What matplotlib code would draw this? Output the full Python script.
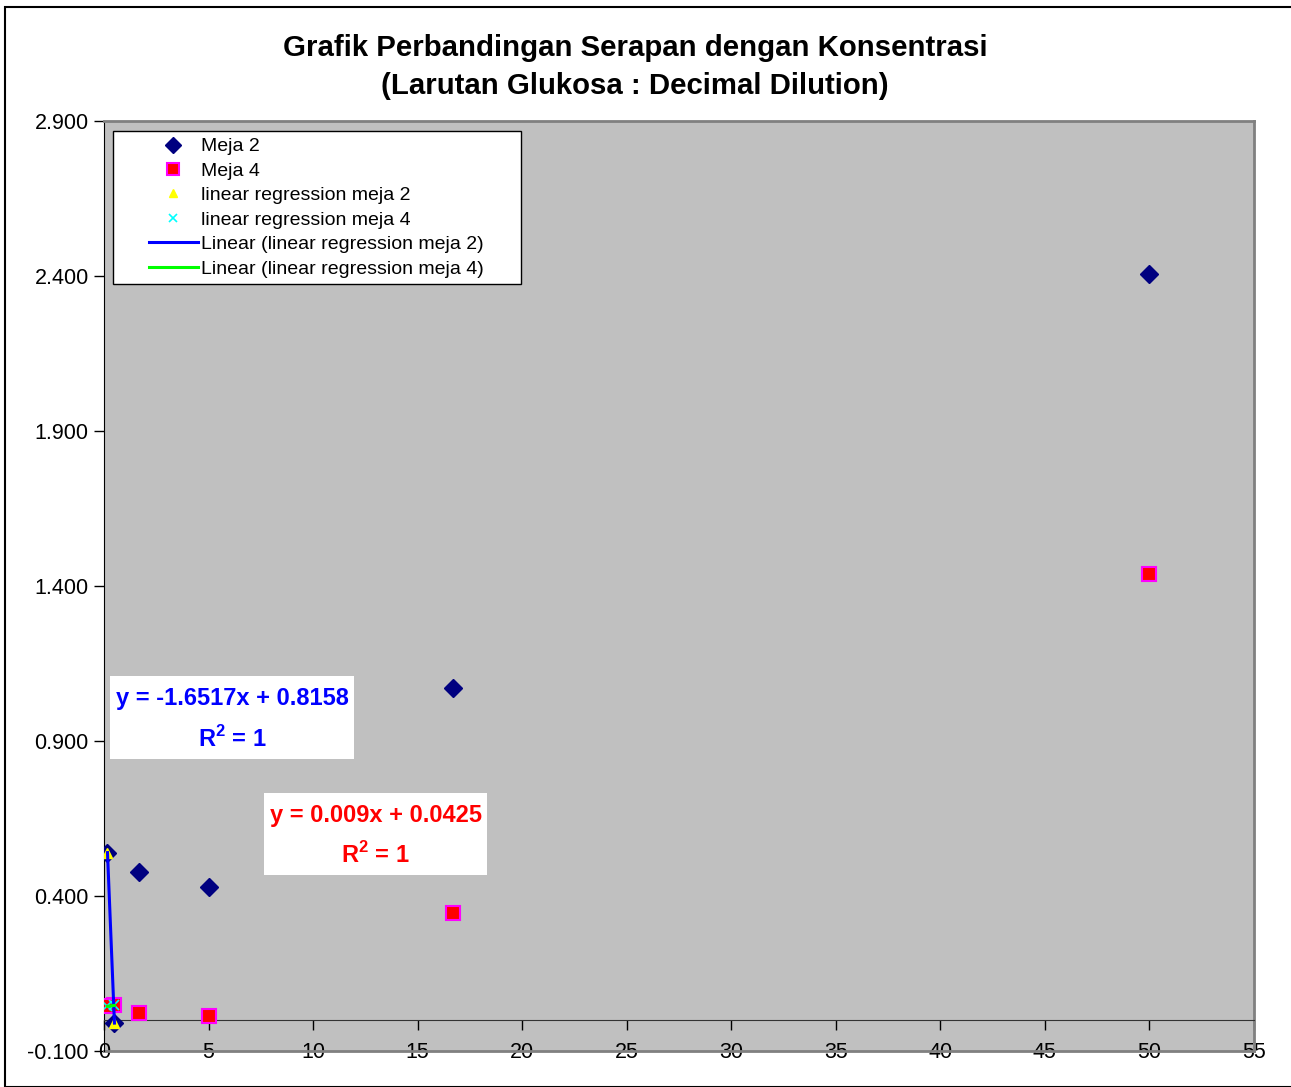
import numpy as np
import matplotlib
matplotlib.use("Agg")
import matplotlib.pyplot as plt
from matplotlib.patches import Rectangle
from matplotlib.legend_handler import HandlerLine2D

plt.rcParams['font.family'] = ['Liberation Sans', 'DejaVu Sans']
plt.rcParams['mathtext.fontset'] = 'custom'
plt.rcParams['mathtext.bf'] = 'Liberation Sans:bold'
plt.rcParams['mathtext.rm'] = 'Liberation Sans:bold'

# konsentrasi (decimal dilution) dan serapan
konsentrasi = [50, 16.67, 5, 1.67, 0.5, 0.167]
meja2 = [2.406, 1.071, 0.429, 0.477, -0.010, 0.540]
meja4 = [1.439, 0.345, 0.013, 0.023, 0.047, 0.044]

# titik regresi linear
x_reg = [0.167, 0.5]
reg_meja2 = [0.540, -0.010]
reg_meja4 = [0.044, 0.047]

eq_meja2 = "y = -1.6517x + 0.8158\nR$^{\\mathbf{2}}$ = 1"
eq_meja4 = "y = 0.009x + 0.0425\nR$^{\\mathbf{2}}$ = 1"

y_ticks = [-0.1, 0.4, 0.9, 1.4, 1.9, 2.4, 2.9]
x_ticks = list(range(0, 56, 5))

W, H = 1291, 1087
fig = plt.figure(figsize=(W / 100, H / 100), dpi=100)
fig.patch.set_facecolor('white')

# bingkai luar
fig.patches.append(Rectangle((5 / W, 0), 1.2, 1 - 7 / H, transform=fig.transFigure,
                             fill=False, edgecolor='black', linewidth=1.5))

AX_L, AX_T, AX_W, AX_H = 104, 121, 1150, 930
ax = fig.add_axes([AX_L / W, 1 - (AX_T + AX_H) / H, AX_W / W, AX_H / H])
ax.set_facecolor('#c0c0c0')


def px(x, y):
    # piksel gambar -> koordinat sumbu
    return (x - AX_L) / AX_W, (AX_T + AX_H - y) / AX_H


ax.plot(konsentrasi, meja2, 'D', color='#000080', markersize=9, label='Meja 2', zorder=3)
ax.plot(konsentrasi, meja4, 's', markerfacecolor='red', markeredgecolor='#ff00ff',
        markeredgewidth=1.5, markersize=10, label='Meja 4', zorder=3)
ax.plot(x_reg, reg_meja2, '^', color='yellow', markersize=7,
        label='linear regression meja 2', zorder=4)
ax.plot(x_reg, reg_meja4, 'x', color='#00ffff', markersize=7, markeredgewidth=1.2,
        label='linear regression meja 4', zorder=4)

xs = np.array(x_reg)
k2 = np.polyfit(x_reg, reg_meja2, 1)
k4 = np.polyfit(x_reg, reg_meja4, 1)
ax.plot(xs, np.polyval(k2, xs), color='#0000ff', linewidth=2.2,
        label='Linear (linear regression meja 2)', zorder=5)
ax.plot(xs, np.polyval(k4, xs), color='#00ff00', linewidth=2.2,
        label='Linear (linear regression meja 4)', zorder=5)

ax.set_xlim(0, 55)
ax.set_ylim(-0.1, 2.9)
ax.set_xticks(x_ticks)
ax.set_yticks(y_ticks)
ax.set_yticklabels(['%.3f' % v for v in y_ticks])

for s in ['top', 'right']:
    ax.spines[s].set_color('#808080')
    ax.spines[s].set_linewidth(2)
ax.spines['left'].set_color('black')
ax.spines['bottom'].set_position(('data', 0))
ax.spines['bottom'].set_color('#333333')
ax.axhline(-0.1, color='#808080', linewidth=2, clip_on=False)

ax.tick_params(axis='y', direction='out', length=7, width=1, labelsize=15.5, pad=4)
ax.tick_params(axis='x', direction='out', length=7, width=1, labelsize=15.5, pad=9)

# legenda
lx0, ly0 = px(113, 131)
lx1, _ = px(521, 131)
hl = HandlerLine2D(xpad=1.5)
leg = ax.legend(loc='upper left', bbox_to_anchor=(lx0, ly0 - 0.1, lx1 - lx0, 0.1),
                mode='expand', fontsize=14, frameon=True, fancybox=False,
                edgecolor='black', framealpha=1, borderaxespad=0, handlelength=4.0,
                handletextpad=0.2, labelspacing=0.35, borderpad=0.35, markerscale=0.85,
                handler_map={matplotlib.lines.Line2D: hl})
leg.get_frame().set_linewidth(1)
leg.set_zorder(10)

# kotak persamaan
for (x0, y0, x1, y1), txt, col in [((110, 676, 354, 759), eq_meja2, '#0000ff'),
                                   ((264, 793, 487, 875), eq_meja4, '#ff0000')]:
    bx0, by0 = px(x0, y1)
    bx1, by1 = px(x1, y0)
    ax.add_patch(Rectangle((bx0, by0), bx1 - bx0, by1 - by0, transform=ax.transAxes,
                           facecolor='white', edgecolor='none', zorder=6))
    cx, cy = px((x0 + x1) / 2, (y0 + y1) / 2 + 2)
    ax.text(cx, cy, txt, transform=ax.transAxes, ha='center', va='center', color=col,
            fontsize=17, fontweight='bold', linespacing=1.75, zorder=7)

fig.text(635 / W, 1 - 67 / H,
         'Grafik Perbandingan Serapan dengan Konsentrasi\n(Larutan Glukosa : Decimal Dilution)',
         ha='center', va='center', fontsize=21.2, fontweight='bold', linespacing=1.45)

fig.savefig('out.png', dpi=100)
